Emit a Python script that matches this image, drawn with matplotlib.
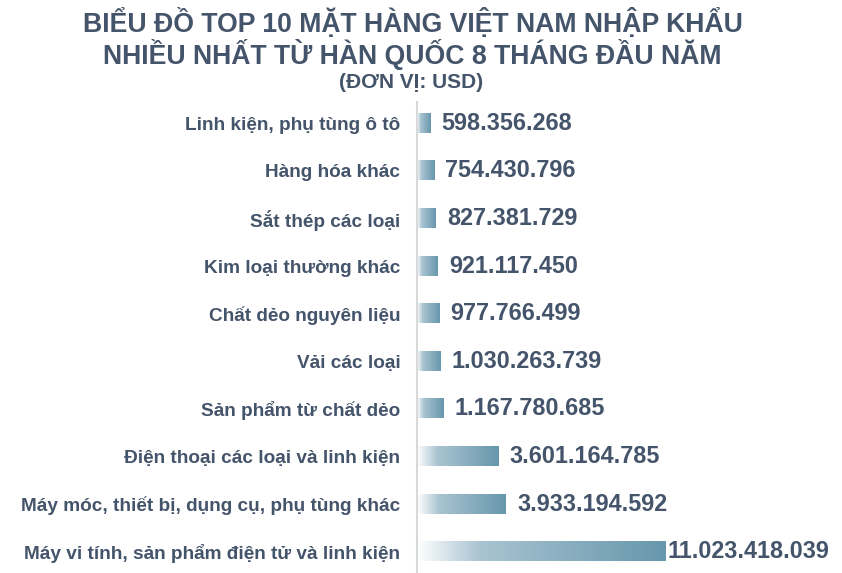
import numpy as np
import matplotlib.pyplot as plt
from matplotlib.colors import LinearSegmentedColormap

categories = [
    "Linh kiện, phụ tùng ô tô",
    "Hàng hóa khác",
    "Sắt thép các loại",
    "Kim loại thường khác",
    "Chất dẻo nguyên liệu",
    "Vải các loại",
    "Sản phẩm từ chất dẻo",
    "Điện thoại các loại và linh kiện",
    "Máy móc, thiết bị, dụng cụ, phụ tùng khác",
    "Máy vi tính, sản phẩm điện tử và linh kiện",
]
values = [
    598356268,
    754430796,
    827381729,
    921117450,
    977766499,
    1030263739,
    1167780685,
    3601164785,
    3933194592,
    11023418039,
]
title_lines = [
    "BIỂU ĐỒ TOP 10 MẶT HÀNG VIỆT NAM NHẬP KHẨU",
    "NHIỀU NHẤT TỪ HÀN QUỐC 8 THÁNG ĐẦU NĂM",
]
unit_label = "(ĐƠN VỊ: USD)"

text_color = "#44546a"
plt.rcParams["font.family"] = ["Liberation Sans", "DejaVu Sans"]

cmap = LinearSegmentedColormap.from_list(
    "bar_grad", [(0.0, "#ffffff"), (0.25, "#a9c4d1"), (1.0, "#6797ad")])

W, H = 842, 573
fig = plt.figure(figsize=(W / 100, H / 100), dpi=100)
ax = fig.add_axes([417 / W, 0, 1 - 417 / W, 471 / H])

xmax = values[-1] * 425 / 249

grad = np.linspace(0, 1, 256).reshape(1, -1)
bar_h = 0.4
for i, v in enumerate(values):
    ax.imshow(grad, cmap=cmap, aspect="auto", interpolation="bilinear",
              extent=(0, v, i + bar_h / 2, i - bar_h / 2))
    # the biggest bar has its label almost touching the bar end
    pad = 1 if v == max(values) else 8
    label = f"{v:,}".replace(",", ".")
    ax.annotate(label, (v, i), xytext=(pad, 0), textcoords="offset points",
                ha="left", va="center", fontsize=16.8, fontweight="bold",
                color=text_color)

ax.set_xlim(0, xmax)
ax.set_ylim(len(values) - 0.55, -0.45)
ax.set_xticks([])
ax.set_yticks(range(len(categories)))
ax.set_yticklabels(categories, fontsize=13.7, fontweight="bold", color=text_color)
ax.tick_params(axis="y", length=0, pad=12)
for side in ["top", "right", "bottom"]:
    ax.spines[side].set_visible(False)
ax.spines["left"].set_color("#d9d9d9")
ax.spines["left"].set_linewidth(1.5)

fig.text(413 / W, 1 - 23 / H, title_lines[0], ha="center", va="center",
         fontsize=19.2, fontweight="bold", color=text_color)
fig.text(412 / W, 1 - 55 / H, title_lines[1], ha="center", va="center",
         fontsize=19.2, fontweight="bold", color=text_color)
fig.text(411 / W, 1 - 82 / H, unit_label, ha="center", va="center",
         fontsize=15, fontweight="bold", color=text_color)

fig.savefig("out.png", dpi=100)
